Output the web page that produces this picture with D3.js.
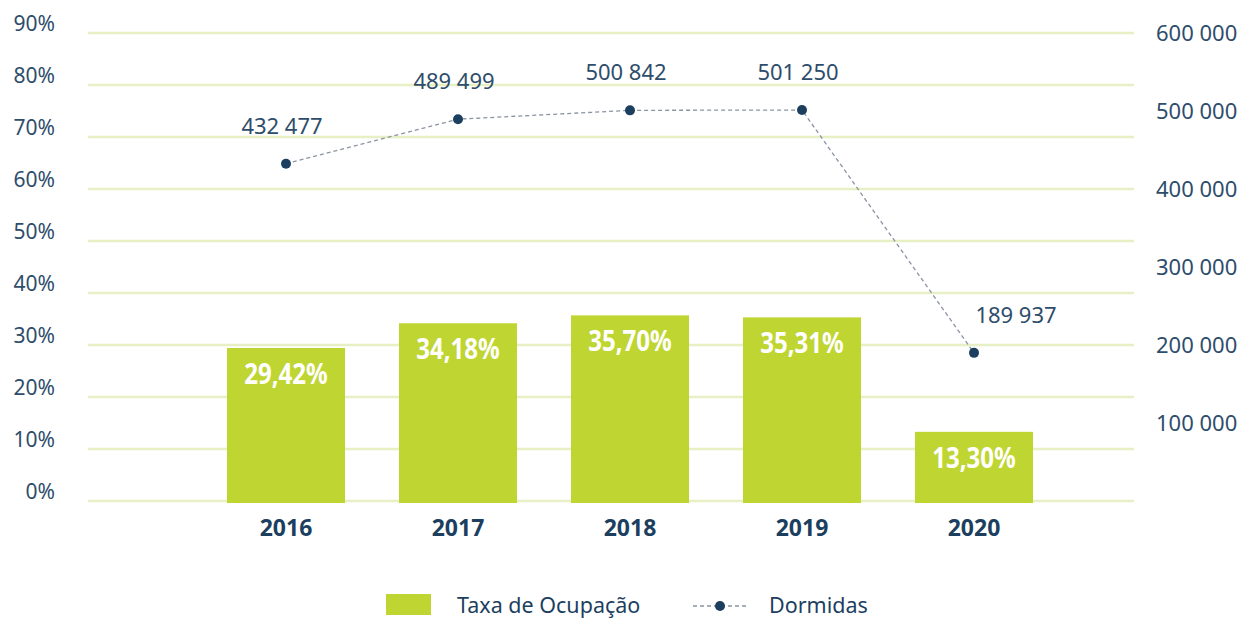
<!DOCTYPE html>
<html>
<head>
<meta charset="utf-8">
<script src="https://cdn.jsdelivr.net/npm/d3@7"></script>
<style>
  body { margin: 0; background: #fff; }
  svg { display: block; }
</style>
</head>
<body>
<svg></svg>
<script>
// dados
var anos = ['2016', '2017', '2018', '2019', '2020']
var taxaOcupacao = [29.42, 34.18, 35.70, 35.31, 13.30]
var dormidas = [432477, 489499, 500842, 501250, 189937]
var ticksPct = [0, 10, 20, 30, 40, 50, 60, 70, 80, 90]
var ticksDormidas = [100000, 200000, 300000, 400000, 500000, 600000]

var verde = '#bfd531'
var grelha = '#e7efc4'
var azul = '#2e4d6b'
var azulEscuro = '#1c3f5f'
var fonte = '"Noto Sans", "Open Sans", sans-serif'

var svg = d3.select('svg')
  .attr('width', 1242)
  .attr('height', 619)

// escalas
var x = d3.scaleBand()
  .domain(anos)
  .range([200, 1060])
  .paddingInner(0.314)
  .paddingOuter(0.157)

var yPct = d3.scaleLinear()
  .domain([0, 90])
  .range([501, 33])

var yDorm = d3.scaleLinear()
  .domain([0, 600000])
  .range([501, 33])

var fmtMil = function(v) {
  return d3.format(',')(v).replace(/,/g, ' ')
}
var centro = function(i) {
  return x(anos[i]) + x.bandwidth() / 2
}

// linhas de grelha
svg.append('g')
  .selectAll('line')
  .data(ticksPct)
  .enter()
  .append('line')
  .attr('x1', 88)
  .attr('x2', 1134)
  .attr('y1', d => yPct(d))
  .attr('y2', d => yPct(d))
  .attr('stroke', grelha)
  .attr('stroke-width', 2.5)

// eixo esquerdo
var eixoEsq = d3.axisLeft(yPct)
  .tickValues(ticksPct)
  .tickFormat(d => d + '%')
  .tickSize(0)
  .tickPadding(0)

svg.append('g')
  .attr('transform', 'translate(55,0)')
  .call(eixoEsq)
  .call(g => g.select('.domain').remove())
  .call(g => g.selectAll('text')
    .attr('dy', '-0.1em')
    .attr('fill', azul)
    .style('font-family', fonte)
    .style('font-size', '21px'))

// eixo direito
var eixoDir = d3.axisRight(yDorm)
  .tickValues(ticksDormidas)
  .tickFormat(fmtMil)
  .tickSize(0)
  .tickPadding(0)

svg.append('g')
  .attr('transform', 'translate(1156,0)')
  .call(eixoDir)
  .call(g => g.select('.domain').remove())
  .call(g => g.selectAll('text')
    .attr('fill', azul)
    .style('font-family', fonte)
    .style('font-size', '22px'))

// barras
svg.append('g')
  .selectAll('rect')
  .data(taxaOcupacao)
  .enter()
  .append('rect')
  .attr('x', (d, i) => x(anos[i]))
  .attr('y', d => yPct(d))
  .attr('width', x.bandwidth())
  .attr('height', d => 503 - yPct(d))
  .attr('fill', verde)

// valores nas barras (condensado)
svg.append('g')
  .selectAll('text')
  .data(taxaOcupacao)
  .enter()
  .append('text')
  .attr('transform', (d, i) => 'translate(' + centro(i) + ',' + (yPct(d) + 36) + ') scale(0.86,1)')
  .attr('text-anchor', 'middle')
  .attr('fill', '#fff')
  .style('font-family', fonte)
  .style('font-weight', 'bold')
  .style('font-size', '28px')
  .text(d => d.toFixed(2).replace('.', ',') + '%')

// anos
svg.append('g')
  .selectAll('text')
  .data(anos)
  .enter()
  .append('text')
  .attr('x', (d, i) => centro(i))
  .attr('y', 536)
  .attr('text-anchor', 'middle')
  .attr('fill', azulEscuro)
  .style('font-family', fonte)
  .style('font-weight', 'bold')
  .style('font-size', '23px')
  .text(d => d)

// linha das dormidas
var linha = d3.line()
  .x((d, i) => centro(i))
  .y(d => yDorm(d))

svg.append('path')
  .datum(dormidas)
  .attr('d', linha)
  .attr('fill', 'none')
  .attr('stroke', '#8b93a2')
  .attr('stroke-width', 1.3)
  .attr('stroke-dasharray', '4,3')

svg.append('g')
  .selectAll('circle')
  .data(dormidas)
  .enter()
  .append('circle')
  .attr('cx', (d, i) => centro(i))
  .attr('cy', d => yDorm(d))
  .attr('r', 5)
  .attr('fill', azulEscuro)

svg.append('g')
  .selectAll('text')
  .data(dormidas)
  .enter()
  .append('text')
  .attr('x', (d, i) => centro(i) + (i == dormidas.length - 1 ? 42 : -4))
  .attr('y', d => yDorm(d) - 30)
  .attr('text-anchor', 'middle')
  .attr('fill', azul)
  .style('font-family', fonte)
  .style('font-size', '22px')
  .text(fmtMil)

// legenda
svg.append('rect')
  .attr('x', 386)
  .attr('y', 594)
  .attr('width', 45)
  .attr('height', 21)
  .attr('fill', verde)

svg.append('text')
  .attr('x', 457)
  .attr('y', 613)
  .attr('fill', azulEscuro)
  .style('font-family', fonte)
  .style('font-size', '21.5px')
  .text('Taxa de Ocupação')

svg.append('line')
  .attr('x1', 693)
  .attr('x2', 748)
  .attr('y1', 606)
  .attr('y2', 606)
  .attr('stroke', '#8b93a2')
  .attr('stroke-width', 1.3)
  .attr('stroke-dasharray', '4,3')

svg.append('circle')
  .attr('cx', 720)
  .attr('cy', 606)
  .attr('r', 5)
  .attr('fill', azulEscuro)

svg.append('text')
  .attr('x', 769)
  .attr('y', 613)
  .attr('fill', azulEscuro)
  .style('font-family', fonte)
  .style('font-size', '21.5px')
  .text('Dormidas')
</script>
</body>
</html>
